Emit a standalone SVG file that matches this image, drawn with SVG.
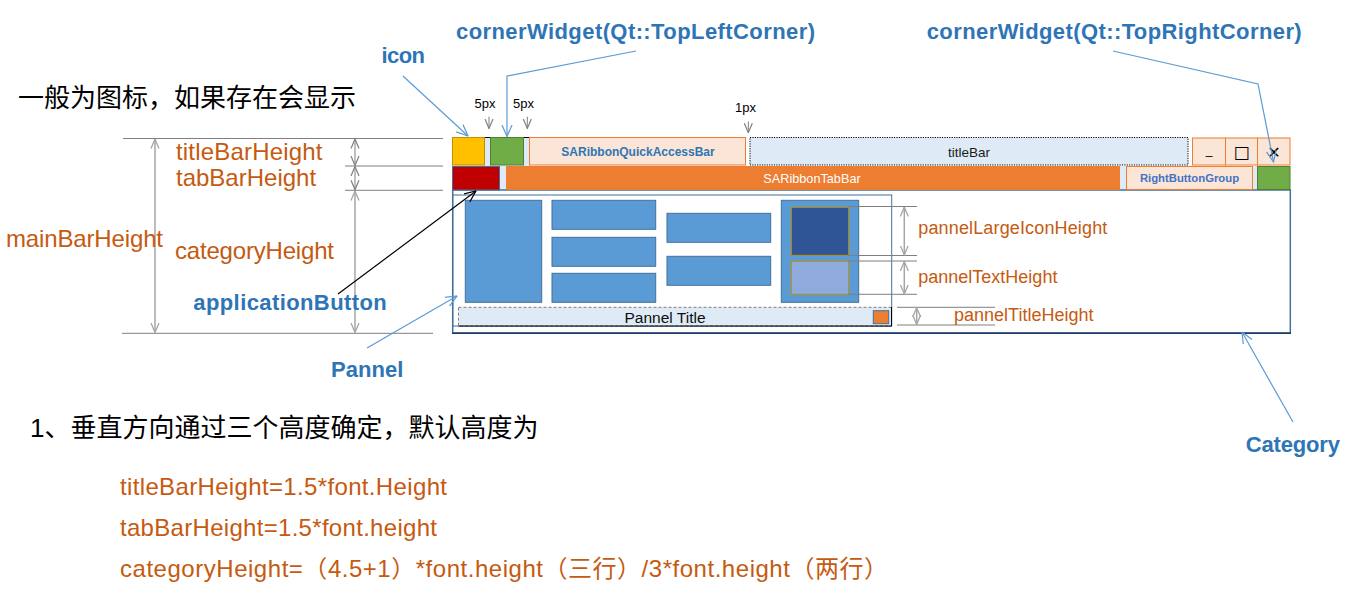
<svg xmlns="http://www.w3.org/2000/svg" width="1360" height="602" viewBox="0 0 1360 602">
<defs>
<style>
text{font-family:"Liberation Sans",Arial,sans-serif}
.cjk{font-family:"Liberation Sans","Noto Sans CJK SC",sans-serif;fill:#000}
.lbl{fill:#C55A11;font-size:24px}
.plbl{fill:#C55A11;font-size:18px}
.blue{fill:#2E75B6;font-weight:bold;font-size:22px}
.px{fill:#000;font-size:13px}
.btn{fill:#5B9BD5;stroke:#41719C;stroke-width:1}
.dim{stroke:#7F7F7F;stroke-width:1;fill:none}
.darr{stroke:#A6A6A6;stroke-width:1.5;fill:none}
.conn{stroke:#5B9BD5;stroke-width:1.2;fill:none}
.peach{fill:#FBE5D6;stroke:#ED7D31;stroke-width:1}
.grn{fill:#70AD47;stroke:#507E32;stroke-width:1}
</style>
<marker id="chev" viewBox="0 0 10 10" refX="9.5" refY="5" markerWidth="10" markerHeight="10" markerUnits="userSpaceOnUse" orient="auto-start-reverse"><path d="M0,1 L9.5,5 L0,9" fill="none" stroke="#A6A6A6" stroke-width="1.3"/></marker>
<marker id="chevD" viewBox="0 0 10 10" refX="9.5" refY="5" markerWidth="10" markerHeight="10" markerUnits="userSpaceOnUse" orient="auto-start-reverse"><path d="M0,1 L9.5,5 L0,9" fill="none" stroke="#808080" stroke-width="1.2"/></marker>
<marker id="arrB" viewBox="0 0 12 12" refX="11.5" refY="6" markerWidth="12" markerHeight="12" markerUnits="userSpaceOnUse" orient="auto"><path d="M0,1 L11.5,6 L0,11" fill="none" stroke="#5B9BD5" stroke-width="1.2"/></marker>
<marker id="arrK" viewBox="0 0 12 12" refX="11.5" refY="6" markerWidth="12" markerHeight="12" markerUnits="userSpaceOnUse" orient="auto"><path d="M0,1 L11.5,6 L0,11" fill="none" stroke="#000" stroke-width="1.2"/></marker>
</defs>
<rect width="1360" height="602" fill="#fff"/>

<!-- ribbon window -->
<g id="ribbon-background">
<rect x="452" y="137" width="78" height="29" fill="#DEEBF7"/>
<rect x="452" y="166" width="838" height="24" fill="#DEEBF7"/>
<line x1="485" y1="137.5" x2="530" y2="137.5" stroke="#000" stroke-width="1"/>
</g>
<g id="category">
<rect x="452.7" y="190" width="837.6" height="143" fill="#fff" stroke="#41719C" stroke-width="1.5"/>
<line x1="452" y1="333.3" x2="1291" y2="333.3" stroke="#1F3864" stroke-width="1.5"/>
</g>
<g id="icon"><rect x="452.5" y="137.5" width="32" height="27.5" fill="#FFC000" stroke="#BF9000"/></g>
<g id="cornerWidgetTopLeft"><rect x="490.5" y="137.5" width="33" height="27.5" class="grn"/></g>
<g id="quickAccessBar">
<rect x="529.5" y="137.5" width="216" height="27.5" class="peach"/>
<text x="638" y="156" font-size="12" font-weight="bold" fill="#2E75B6" text-anchor="middle">SARibbonQuickAccessBar</text>
</g>
<g id="titleBar">
<rect x="750" y="137.5" width="438" height="27.5" fill="#DEEBF7" stroke="#000" stroke-width="1" stroke-dasharray="1.2,1.2"/>
<text x="969" y="156.5" font-size="13.5" fill="#1a1a1a" text-anchor="middle">titleBar</text>
</g>
<g id="windowButtons">
<rect x="1192.5" y="138" width="33" height="27" class="peach"/>
<rect x="1225.5" y="138" width="32" height="27" class="peach"/>
<rect x="1257.5" y="138" width="32.5" height="27" class="peach"/>
<text x="1209" y="154" font-size="12" fill="#000" text-anchor="middle">_</text>
<text x="1241.5" y="158" font-size="17" fill="#000" text-anchor="middle" style="font-family:'DejaVu Sans',sans-serif">□</text>
<text x="1274" y="158" font-size="16" fill="#000" text-anchor="middle" style="font-family:'DejaVu Sans',sans-serif">✕</text>
</g>
<g id="applicationButton"><rect x="452.5" y="166.5" width="47" height="23.5" fill="#C00000" stroke="#41719C"/></g>
<g id="tabBar">
<rect x="506" y="166" width="614" height="24" fill="#ED7D31"/>
<text x="812" y="182.5" font-size="12.7" fill="#fff" text-anchor="middle">SARibbonTabBar</text>
</g>
<g id="rightButtonGroup">
<rect x="1126.5" y="166.5" width="126" height="23" class="peach"/>
<text x="1189.5" y="182" font-size="11.3" font-weight="bold" fill="#4472C4" text-anchor="middle">RightButtonGroup</text>
</g>
<g id="cornerWidgetTopRight"><rect x="1257.5" y="166.5" width="32.5" height="23" class="grn"/></g>

<!-- pannel -->
<g id="pannel">
<rect x="452.7" y="195" width="439" height="131" fill="none" stroke="#41719C" stroke-width="1"/>
<rect x="465.3" y="200.3" width="76.4" height="102" class="btn"/>
<rect x="552" y="200.3" width="103.7" height="29" class="btn"/>
<rect x="552" y="237.3" width="103.7" height="29" class="btn"/>
<rect x="552" y="273.3" width="103.7" height="29" class="btn"/>
<rect x="667" y="213.3" width="103.7" height="29" class="btn"/>
<rect x="667" y="256.3" width="103.7" height="29" class="btn"/>
<rect x="781.3" y="200.3" width="77.4" height="102" class="btn"/>
<rect x="791.3" y="207.3" width="57.4" height="48" fill="#2F5597" stroke="#BF9000" stroke-width="1"/>
<rect x="791.3" y="261.3" width="57.4" height="33" fill="#8FAADC" stroke="#BF9000" stroke-width="1"/>
</g>
<g id="pannelTitle">
<rect x="458.5" y="307.3" width="433" height="18.7" fill="#DEEBF7" stroke="#7F7F7F" stroke-width="1" stroke-dasharray="3,2"/>
<polyline points="891.5,307 891.5,326 458.5,326" fill="none" stroke="#000" stroke-width="1"/>
<text x="665" y="323" font-size="15.5" fill="#0D0D0D" text-anchor="middle">Pannel Title</text>
<rect x="873.3" y="310.7" width="15.4" height="13" fill="#ED7D31" stroke="#41719C"/>
</g>

<!-- dimension lines -->
<g id="dimensions">
<line x1="123" y1="138.5" x2="443" y2="138.5" class="dim"/>
<line x1="345" y1="166" x2="443" y2="166" class="dim"/>
<line x1="345" y1="190.3" x2="443" y2="190.3" class="dim"/>
<line x1="122" y1="333.3" x2="433" y2="333.3" class="dim"/>
<line x1="155" y1="139" x2="155" y2="332.5" class="darr" marker-start="url(#chev)" marker-end="url(#chev)"/>
<line x1="355" y1="139" x2="355" y2="165.5" stroke="#808080" stroke-width="1" marker-start="url(#chevD)" marker-end="url(#chevD)"/>
<line x1="355" y1="166.5" x2="355" y2="189.8" stroke="#808080" stroke-width="1" marker-start="url(#chevD)" marker-end="url(#chevD)"/>
<line x1="355" y1="191" x2="355" y2="332.5" class="darr" marker-start="url(#chev)" marker-end="url(#chev)"/>

<line x1="848" y1="206.5" x2="917" y2="206.5" class="dim"/>
<line x1="848" y1="255.5" x2="917" y2="255.5" class="dim"/>
<line x1="848" y1="261" x2="917" y2="261" class="dim"/>
<line x1="848" y1="294.3" x2="917" y2="294.3" class="dim"/>
<line x1="897" y1="307.3" x2="995" y2="307.3" class="dim"/>
<line x1="897" y1="325" x2="995" y2="325" class="dim"/>
<line x1="904.3" y1="207" x2="904.3" y2="255" class="darr" marker-start="url(#chev)" marker-end="url(#chev)"/>
<line x1="904.3" y1="261.5" x2="904.3" y2="294" class="darr" marker-start="url(#chev)" marker-end="url(#chev)"/>
<line x1="916.7" y1="307.8" x2="916.7" y2="324.5" class="darr" marker-start="url(#chev)" marker-end="url(#chev)"/>

<line x1="489" y1="116.7" x2="489" y2="128.5" stroke="#808080" stroke-width="1" marker-end="url(#chevD)"/>
<line x1="527.3" y1="116.7" x2="527.3" y2="128.5" stroke="#808080" stroke-width="1" marker-end="url(#chevD)"/>
<line x1="748.3" y1="121.5" x2="748.3" y2="132.7" stroke="#808080" stroke-width="1" marker-end="url(#chevD)"/>
</g>

<!-- connectors -->
<g id="connectors">
<line x1="403" y1="76" x2="468" y2="136" class="conn" marker-end="url(#arrB)"/>
<polyline points="636,51 507,76 507,136.5" class="conn" marker-end="url(#arrB)"/>
<polyline points="1113,51 1258,84 1273.5,162" class="conn" marker-end="url(#arrB)"/>
<line x1="367" y1="348" x2="457" y2="296" class="conn" marker-end="url(#arrB)"/>
<line x1="1293" y1="422" x2="1242" y2="332" class="conn" marker-end="url(#arrB)"/>
<line x1="338" y1="294" x2="476" y2="191" stroke="#000" stroke-width="1.2" marker-end="url(#arrK)"/>
</g>

<!-- labels -->
<g id="labels">
<text x="456" y="39.3" class="blue" font-size="22.5" textLength="359">cornerWidget(Qt::TopLeftCorner)</text>
<text x="926.7" y="39.3" class="blue" font-size="22.5" textLength="375">cornerWidget(Qt::TopRightCorner)</text>
<text x="381.5" y="63.3" class="blue" font-size="21" textLength="43.5">icon</text>
<text x="18" y="107" class="cjk" font-size="26">一般为图标，如果存在会显示</text>
<text x="485" y="108" class="px" text-anchor="middle">5px</text>
<text x="523.5" y="108" class="px" text-anchor="middle">5px</text>
<text x="745.5" y="111.5" class="px" text-anchor="middle">1px</text>

<text x="176" y="160" class="lbl" textLength="146.5">titleBarHeight</text>
<text x="176" y="186" class="lbl">tabBarHeight</text>
<text x="6" y="247" class="lbl" textLength="157">mainBarHeight</text>
<text x="175" y="259.3" class="lbl" textLength="159">categoryHeight</text>
<text x="193.3" y="310" class="blue" textLength="193.4">applicationButton</text>
<text x="331" y="377" class="blue" textLength="72.3">Pannel</text>
<text x="1245.7" y="451.7" class="blue" textLength="94.3">Category</text>

<text x="918.3" y="234.3" class="plbl" textLength="189">pannelLargeIconHeight</text>
<text x="918.3" y="283.3" class="plbl">pannelTextHeight</text>
<text x="954" y="320.7" class="plbl">pannelTitleHeight</text>

<text x="30" y="437" class="cjk" font-size="26">1、垂直方向通过三个高度确定，默认高度为</text>
<text x="120" y="495" class="lbl" textLength="327" style="font-family:'Liberation Sans','Noto Sans CJK SC',sans-serif">titleBarHeight=1.5*font.Height</text>
<text x="120" y="536" class="lbl" textLength="317" style="font-family:'Liberation Sans','Noto Sans CJK SC',sans-serif">tabBarHeight=1.5*font.height</text>
<text x="120" y="577" class="lbl" textLength="768" style="font-family:'Liberation Sans','Noto Sans CJK SC',sans-serif">categoryHeight=（4.5+1）*font.height（三行）/3*font.height（两行）</text>
</g>
</svg>
